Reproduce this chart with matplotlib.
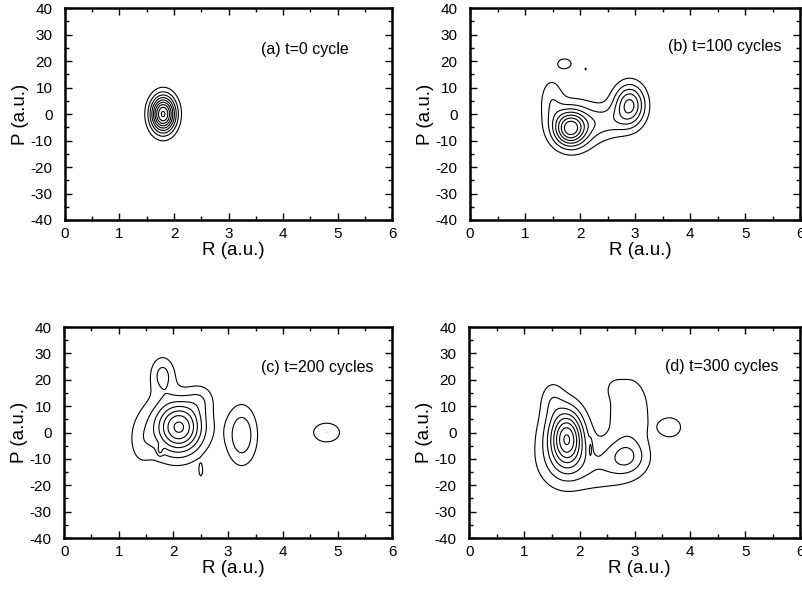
import numpy as np
import matplotlib
matplotlib.use("Agg")
import matplotlib.pyplot as plt
from matplotlib.ticker import MultipleLocator

plt.rcParams['font.family'] = ['Liberation Sans', 'DejaVu Sans']
plt.rcParams['axes.unicode_minus'] = False

# ---- data: Gaussian components (R centre, P centre, R width, P width, amplitude)
labels = ["(a) t=0 cycle", "(b) t=100 cycles", "(c) t=200 cycles", "(d) t=300 cycles"]

a_R0 = [1.80]
a_P0 = [0.0]
a_sR = [0.16]
a_sP = [4.8]
a_A = [0.92]

b_R0 = [1.82, 1.95, 1.48, 2.90, 2.50, 1.72, 2.10]
b_P0 = [-5.5, -4.0, 6.0, 3.5, -3.0, 19.0, 17.0]
b_sR = [0.20, 0.40, 0.15, 0.20, 0.30, 0.11, 0.02]
b_sP = [4.5, 7.0, 6.0, 5.5, 4.0, 1.7, 0.7]
b_A = [0.60, 0.20, 0.15, 0.52, 0.15, 0.17, 0.11]

c_R0 = [2.12, 1.95, 1.80, 3.25, 4.80, 1.75, 2.50, 2.50, 1.40]
c_P0 = [2.0, 2.0, 22.0, -1.0, 0.0, -7.0, -14.5, 13.0, -5.0]
c_sR = [0.28, 0.45, 0.16, 0.20, 0.20, 0.04, 0.03, 0.18, 0.15]
c_sP = [6.5, 9.0, 5.0, 8.0, 3.0, 1.5, 2.0, 4.0, 6.0]
c_A = [0.52, 0.22, 0.22, 0.28, 0.20, 0.12, 0.13, 0.12, 0.08]

d_R0 = [1.78, 1.65, 2.30, 2.90, 2.85, 1.50, 3.65, 2.20, 2.60]
d_P0 = [-2.0, -3.0, -13.0, 8.0, -9.0, 13.0, 2.0, -6.0, 17.0]
d_sR = [0.20, 0.32, 0.60, 0.30, 0.24, 0.15, 0.17, 0.02, 0.12]
d_sP = [7.0, 11.0, 7.0, 11.0, 4.5, 5.0, 3.2, 2.5, 3.0]
d_A = [0.58, 0.22, 0.17, 0.18, 0.20, 0.11, 0.17, 0.12, 0.05]

levels = [0.1, 0.2, 0.3, 0.4, 0.5, 0.6, 0.7, 0.8, 0.9]

panels = [
    (a_R0, a_P0, a_sR, a_sP, a_A),
    (b_R0, b_P0, b_sR, b_sP, b_A),
    (c_R0, c_P0, c_sR, c_sP, c_A),
    (d_R0, d_P0, d_sR, d_sP, d_A),
]

R = np.linspace(0, 6, 601)
P = np.linspace(-40, 40, 401)
RR, PP = np.meshgrid(R, P)


def field(R0, P0, sR, sP, A):
    Z = np.zeros_like(RR)
    for r0, p0, sr, sp, amp in zip(R0, P0, sR, sP, A):
        Z += amp * np.exp(-0.5 * ((RR - r0) / sr) ** 2 - 0.5 * ((PP - p0) / sp) ** 2)
    return Z


fig = plt.figure(figsize=(8.02, 5.97), dpi=100)
rects = [
    [0.081, 0.6315, 0.408, 0.355],
    [0.586, 0.6315, 0.412, 0.355],
    [0.080, 0.0988, 0.409, 0.3534],
    [0.585, 0.0988, 0.413, 0.3534],
]
text_pos = [(3.6, 24.5), (3.6, 25.5), (3.6, 24.5), (3.55, 25.0)]

for i, (rect, comp) in enumerate(zip(rects, panels)):
    ax = fig.add_axes(rect)
    Z = field(*comp)
    ax.contour(RR, PP, Z, levels=levels, colors='black', linewidths=0.8)
    ax.set_xlim(0, 6)
    ax.set_ylim(-40, 40)
    ax.xaxis.set_major_locator(MultipleLocator(1))
    ax.xaxis.set_minor_locator(MultipleLocator(0.5))
    ax.yaxis.set_major_locator(MultipleLocator(10))
    ax.yaxis.set_minor_locator(MultipleLocator(5))
    ax.tick_params(which='both', direction='in', top=True, right=True,
                   labelsize=11, width=1.0)
    ax.tick_params(axis='x', pad=5)
    ax.tick_params(axis='y', pad=9)
    ax.tick_params(which='major', length=5)
    ax.tick_params(which='minor', length=3)
    for s in ax.spines.values():
        s.set_linewidth(1.8)
    ax.set_xlabel("R (a.u.)", fontsize=13.5, labelpad=1)
    ax.xaxis.set_label_coords(0.515, -0.105)
    ax.set_ylabel("P (a.u.)", fontsize=13.5, labelpad=1)
    ax.text(text_pos[i][0], text_pos[i][1], labels[i], fontsize=11.5,
            ha='left', va='center')

fig.savefig("out.png", dpi=100)
